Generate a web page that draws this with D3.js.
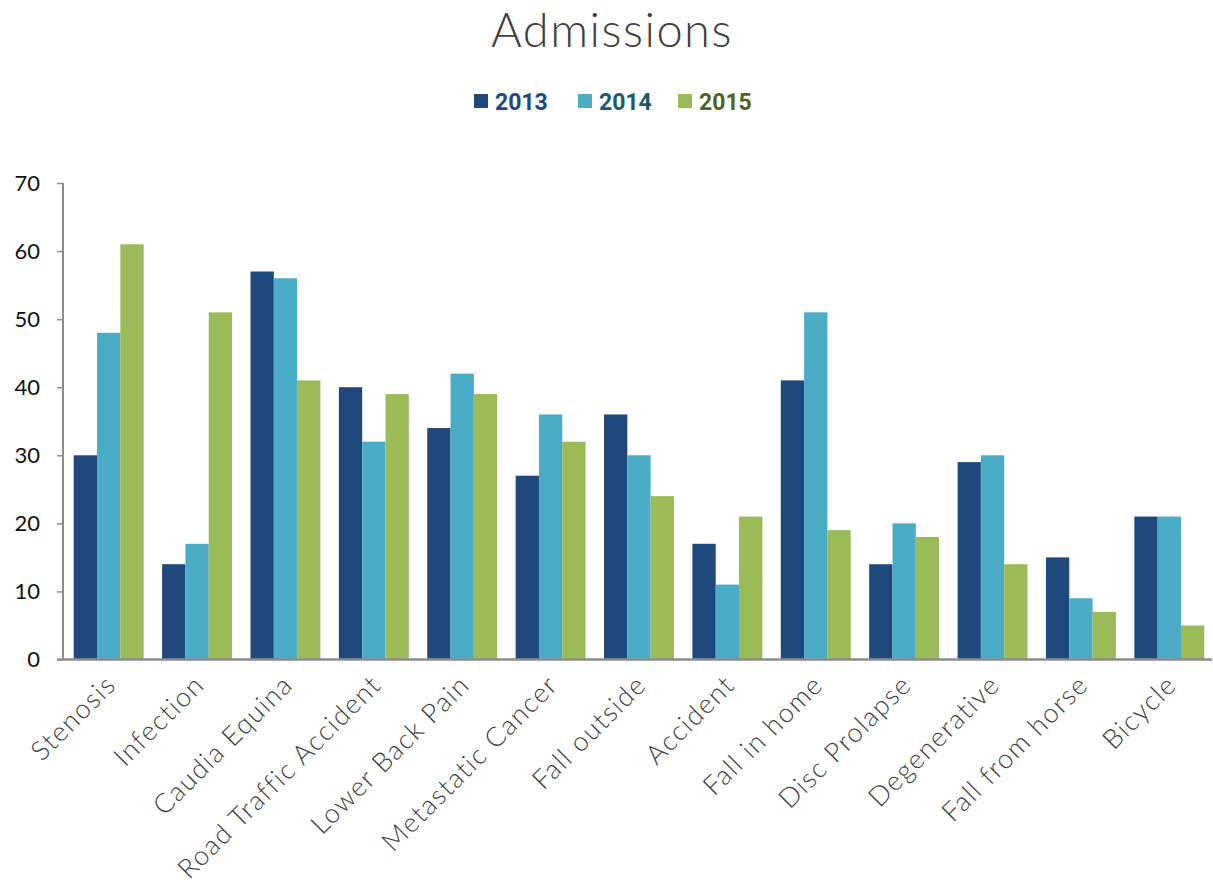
<!DOCTYPE html>
<html>
<head>
<meta charset="utf-8">
<script src="https://cdn.jsdelivr.net/npm/d3@7"></script>
<style>
  html, body { margin: 0; padding: 0; background: #fff; }
  svg { display: block; }
</style>
</head>
<body>
<svg id="chart" width="1213" height="896"></svg>
<script>
// Admission counts by cause, per year
const categories = ["Stenosis", "Infection", "Caudia Equina", "Road Traffic Accident", "Lower Back Pain",
  "Metastatic Cancer", "Fall outside", "Accident", "Fall in home", "Disc Prolapse", "Degenerative",
  "Fall from horse", "Bicycle"];
const seriesNames = ["2013", "2014", "2015"];
const values2013 = [30, 14, 57, 40, 34, 27, 36, 17, 41, 14, 29, 15, 21];
const values2014 = [48, 17, 56, 32, 42, 36, 30, 11, 51, 20, 30, 9, 21];
const values2015 = [61, 51, 41, 39, 39, 32, 24, 21, 19, 18, 14, 7, 5];
const yTicks = [0, 10, 20, 30, 40, 50, 60, 70];

const seriesValues = [values2013, values2014, values2015];
const barColors = ["#1F497D", "#4BACC6", "#9BBB59"];
const legendTextColors = ["#1F497D", "#215968", "#4F6228"];

const svg = d3.select("#chart");
const margin = { left: 63, right: 1, top: 183, bottom: 236.5 };
const W = 1213, H = 896;
const plotW = W - margin.left - margin.right;
const plotH = H - margin.top - margin.bottom;

const x0 = d3.scaleBand().domain(categories).range([1.5, plotW + 1.5]).paddingInner(0).paddingOuter(0);
const x1 = d3.scaleBand().domain(seriesNames).range([0, x0.bandwidth()]).paddingInner(0).paddingOuter(0.395);
const y = d3.scaleLinear().domain([0, 70]).range([plotH, 0]);

// Title
svg.append("text")
  .attr("x", 612).attr("y", 47)
  .attr("text-anchor", "middle")
  .attr("font-family", "Lato, 'Noto Sans', sans-serif")
  .attr("font-weight", 300)
  .attr("font-size", 47)
  .attr("letter-spacing", 1.5)
  .attr("fill", "#404040")
  .text("Admissions");

// Legend
const legend = svg.append("g").attr("transform", "translate(474,101)");
const legendOffsets = [0, 104, 204];
seriesNames.forEach((s, i) => {
  const g = legend.append("g").attr("transform", `translate(${legendOffsets[i]},0)`);
  g.append("rect").attr("x", 0).attr("y", -7).attr("width", 14).attr("height", 14).attr("fill", barColors[i]);
  g.append("text").attr("x", 21).attr("y", 8.5)
    .attr("font-family", "Roboto, 'Liberation Sans', sans-serif")
    .attr("font-weight", "bold")
    .attr("font-size", 23)
    .attr("fill", legendTextColors[i])
    .text(s);
});

const plot = svg.append("g").attr("transform", `translate(${margin.left},${margin.top})`);

// Bars
const groups = plot.selectAll("g.cat")
  .data(categories)
  .join("g")
  .attr("class", "cat")
  .attr("transform", d => `translate(${x0(d)},0)`);

groups.selectAll("rect")
  .data((d, ci) => seriesNames.map((s, si) => ({ s, si, v: seriesValues[si][ci] })))
  .join("rect")
  .attr("x", d => x1(d.s))
  .attr("y", d => y(d.v))
  .attr("width", x1.bandwidth())
  .attr("height", d => plotH - y(d.v))
  .attr("fill", d => barColors[d.si]);

// Y axis
const yAxis = plot.append("g").call(d3.axisLeft(y).tickValues(yTicks).tickSize(6).tickPadding(17));
yAxis.select(".domain").attr("stroke", "#8c8c8c").attr("stroke-width", 2).attr("d", `M0,${plotH}V0`);
yAxis.selectAll(".tick line").attr("stroke", "#8c8c8c").attr("stroke-width", 1.5);
yAxis.selectAll(".tick text")
  .attr("font-family", "Lato, 'Open Sans', sans-serif")
  .attr("font-size", 22)
  .attr("fill", "#111");

// X axis
const xAxis = plot.append("g").attr("transform", `translate(0,${plotH})`)
  .call(d3.axisBottom(x0).tickSize(0).tickPadding(0));
xAxis.select(".domain").attr("stroke", "#8c8c8c").attr("stroke-width", 2.5).attr("d", `M-6,0H${plotW}`);
xAxis.selectAll(".tick text")
  .attr("font-family", "Lato, 'Noto Sans', sans-serif")
  .attr("font-weight", 300)
  .attr("font-size", 27)
  .attr("letter-spacing", 1.4)
  .attr("fill", "#404040")
  .attr("text-anchor", "end")
  .attr("dy", 0)
  .attr("transform", "translate(9,27) rotate(-45)");
</script>
</body>
</html>
